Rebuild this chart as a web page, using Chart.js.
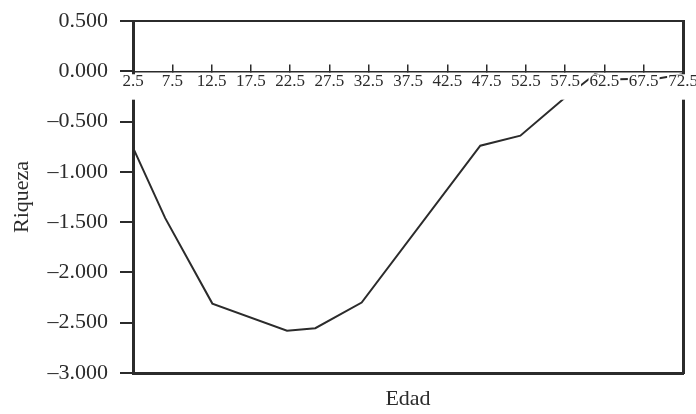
<!DOCTYPE html>
<html>
<head>
<meta charset="utf-8">
<script src="https://cdn.jsdelivr.net/npm/chart.js@4.4.1/dist/chart.umd.min.js"></script>
<style>
  html, body { margin: 0; padding: 0; background: #ffffff; }
  #wrap { width: 696px; height: 414px; position: relative; }
</style>
</head>
<body>
<div id="wrap"><canvas id="riquezaChart"></canvas></div>
<script>
// Datos (edad vs. riqueza)
const edad = [2.5, 6.6, 12.6, 22.1, 25.7, 31.6, 46.7, 51.8, 57.2, 61.3, 64.5, 69.5, 72.5];
const riqueza = [-0.76, -1.46, -2.31, -2.58, -2.555, -2.30, -0.74, -0.64, -0.28, -0.03, -0.08, -0.07, -0.03];

// Marcas de los ejes
const xTickValues = [2.5, 7.5, 12.5, 17.5, 22.5, 27.5, 32.5, 37.5, 42.5, 47.5, 52.5, 57.5, 62.5, 67.5, 72.5];
const xTickLabels = ["2.5", "7.5", "12.5", "17.5", "22.5", "27.5", "32.5", "37.5", "42.5", "47.5", "52.5", "57.5", "62.5", "67.5", "72.5"];
const yTickValues = [-3, -2.5, -2, -1.5, -1, -0.5, 0, 0.5];
const yTickLabels = ["–3.000", "–2.500", "–2.000", "–1.500", "–1.000", "–0.500", "0.000", "0.500"];

const INK = "#2b2b2b";
const SERIF = "'Liberation Serif', 'Times New Roman', serif";

const puntos = edad.map((x, i) => ({ x: x, y: riqueza[i] }));

// Quitar el relleno automático que añade Chart.js por las etiquetas
function noPadding(scale) {
  scale.paddingLeft = 0;
  scale.paddingRight = 0;
  scale.paddingTop = 0;
  scale.paddingBottom = 0;
}

// Eje auxiliar sin marcas, solo para dibujar el marco
function frameAxis(position, size, width, extra) {
  return Object.assign({
    type: "linear",
    position: position,
    ticks: { display: false },
    grid: { display: false },
    border: { display: true, color: INK, width: width },
    afterFit: (scale) => {
      noPadding(scale);
      if (position === "top" || position === "bottom") scale.height = size;
      else scale.width = size;
    },
  }, extra || {});
}

const ctx = document.getElementById("riquezaChart").getContext("2d");

new Chart(ctx, {
  type: "line",
  data: {
    datasets: [{
      label: "Riqueza",
      data: puntos,
      xAxisID: "x",
      yAxisID: "y",
      borderColor: INK,
      borderWidth: 2,
      pointRadius: 0,
      tension: 0,
      fill: false,
    }],
  },
  options: {
    responsive: true,
    maintainAspectRatio: false,
    animation: false,
    layout: { padding: 0 },
    plugins: {
      legend: { display: false },
      tooltip: { enabled: false },
    },
    scales: {
      x: {
        type: "linear",
        position: { y: 0 },
        min: 2.5,
        max: 72.5,
        afterBuildTicks: (scale) => {
          scale.ticks = xTickValues.map((v) => ({ value: v }));
        },
        afterFit: (scale) => {
          noPadding(scale);
          scale.height = 0;
        },
        ticks: {
          z: 1,
          autoSkip: false,
          maxRotation: 0,
          minRotation: 0,
          padding: 8,
          color: INK,
          font: { family: SERIF, size: 17 },
          callback: (value, index) => xTickLabels[index],
          showLabelBackdrop: true,
          backdropColor: "#ffffff",
          backdropPadding: { top: -3, bottom: 8, left: 1, right: 1 },
        },
        grid: {
          drawOnChartArea: false,
          drawTicks: true,
          tickLength: -8,
          color: INK,
          lineWidth: 1.5,
        },
        border: { display: true, color: INK, width: 1.5 },
      },
      xBottom: frameAxis("bottom", 41, 3, {
        min: 2.5,
        max: 72.5,
        title: {
          display: true,
          text: "Edad",
          color: INK,
          font: { family: SERIF, size: 22 },
          padding: { top: 0, bottom: 2 },
        },
      }),
      xTop: frameAxis("top", 21, 2, { min: 2.5, max: 72.5 }),
      y: {
        type: "linear",
        position: "left",
        min: -3,
        max: 0.5,
        afterBuildTicks: (scale) => {
          scale.ticks = yTickValues.map((v) => ({ value: v }));
        },
        afterFit: (scale) => {
          noPadding(scale);
          scale.width = 133;
        },
        ticks: {
          padding: 12,
          color: INK,
          font: { family: SERIF, size: 22 },
          callback: (value) => {
            const i = yTickValues.findIndex((v) => Math.abs(v - value) < 1e-9);
            return i >= 0 ? yTickLabels[i] : "";
          },
        },
        grid: {
          drawOnChartArea: false,
          drawTicks: true,
          tickLength: 13,
          color: INK,
          lineWidth: 2,
        },
        border: { display: true, color: INK, width: 3 },
        title: {
          display: true,
          text: "Riqueza",
          color: INK,
          font: { family: SERIF, size: 22 },
          padding: { top: 9, bottom: 0 },
        },
      },
      yRight: frameAxis("right", 13, 3, { min: -3, max: 0.5 }),
    },
  },
});
</script>
</body>
</html>
